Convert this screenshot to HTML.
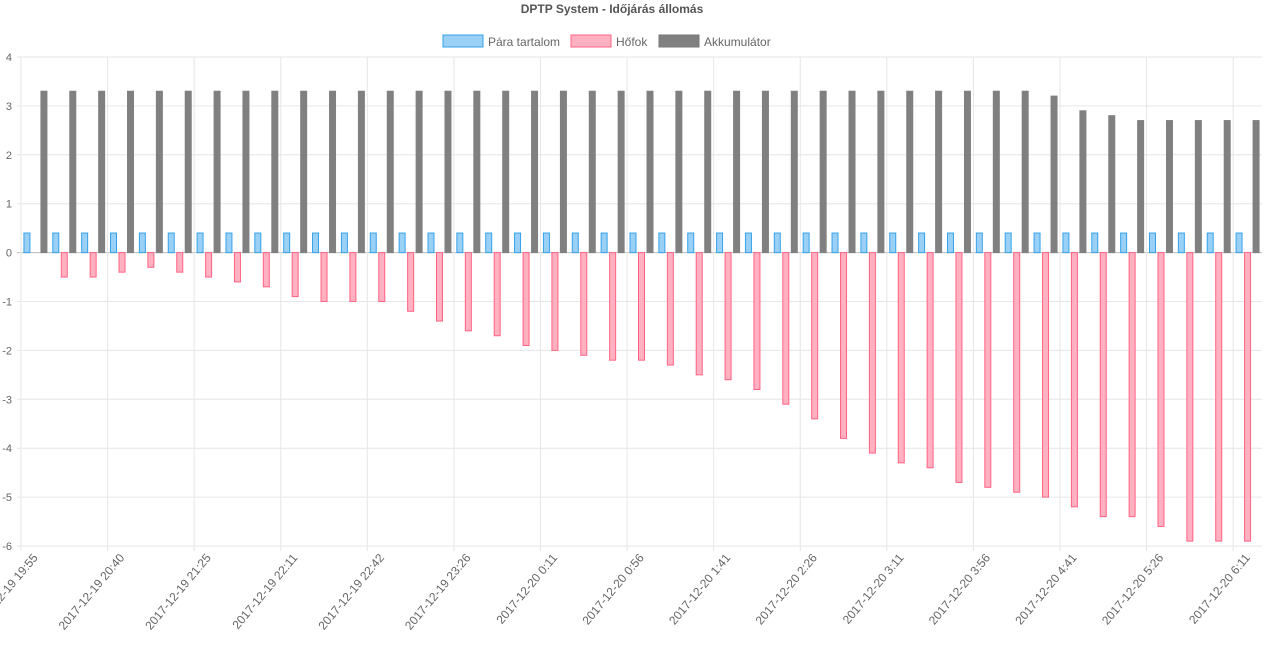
<!DOCTYPE html>
<html><head><meta charset="utf-8"><style>
html,body{margin:0;padding:0;background:#fff;width:1280px;height:656px;overflow:hidden}
svg text{font-family:"Liberation Sans",Arial,sans-serif;fill:#666}
</style></head><body>
<svg id="c" width="1280" height="656" xmlns="http://www.w3.org/2000/svg">
<text x="612" y="13" text-anchor="middle" font-size="12" font-weight="bold" style="fill:#555">DPTP System - Időjárás állomás</text>
<rect x="443" y="35" width="40" height="12" fill="#9ad0f5" stroke="#36a2eb" stroke-width="1"/>
<text x="488" y="46" font-size="12">Pára tartalom</text>
<rect x="571" y="35" width="40" height="12" fill="#ffb1c1" stroke="#ff6384" stroke-width="1"/>
<text x="616" y="46" font-size="12">Hőfok</text>
<rect x="659" y="35" width="40" height="12" fill="#808080" stroke="#777" stroke-width="1"/>
<text x="704" y="46" font-size="12">Akkumulátor</text>
<g id="g"></g>
</svg>
<script>
var g=document.getElementById('g'),s='';
var L=21,R=1262,T=57,B=546,n=43,cw=(R-L)/n,u=(B-T)/10;
function Y(v){return T+(4-v)*u;}
for(var v=-6;v<=4;v++){var y=Y(v);s+='<line x1="'+(L-4)+'" x2="'+R+'" y1="'+y+'" y2="'+y+'" stroke="'+(v==0?'#bbb':'#e6e6e6')+'"/>';
s+='<text x="'+(L-9)+'" y="'+(y+4)+'" text-anchor="end" font-size="11">'+v+'</text>';}
for(var i=0;i<=n;i+=3){var x=L+i*cw;s+='<line x1="'+x+'" x2="'+x+'" y1="'+T+'" y2="'+(B+5)+'" stroke="#e6e6e6"/>';}
var h=[0,-.5,-.5,-.4,-.3,-.4,-.5,-.6,-.7,-.9,-1,-1,-1,-1.2,-1.4,-1.6,-1.7,-1.9,-2,-2.1,-2.2,-2.2,-2.3,-2.5,-2.6,-2.8,-3.1,-3.4,-3.8,-4.1,-4.3,-4.4,-4.7,-4.8,-4.9,-5,-5.2,-5.4,-5.4,-5.6,-5.9,-5.9,-5.9];
var labs=['2017-12-19 19:55','2017-12-19 20:40','2017-12-19 21:25','2017-12-19 22:11','2017-12-19 22:42','2017-12-19 23:26','2017-12-20 0:11','2017-12-20 0:56','2017-12-20 1:41','2017-12-20 2:26','2017-12-20 3:11','2017-12-20 3:56','2017-12-20 4:41','2017-12-20 5:26','2017-12-20 6:11'];
function bar(cx,v,f,st){var y0=Y(0),y1=Y(v);var t=Math.min(y0,y1),hh=Math.abs(y1-y0);if(hh<0.5)return '';
return '<rect x="'+(cx-3)+'" y="'+t+'" width="6" height="'+hh+'" fill="'+f+'" stroke="'+st+'" stroke-width="1"/>';}
for(var i=0;i<n;i++){var c=L+(i+.5)*cw;
var a=i<35?3.3:[3.2,2.9,2.8,2.7,2.7,2.7,2.7,2.7][i-35];
s+=bar(c-8.5,0.4,'#9ad0f5','#36a2eb');
s+=bar(c,h[i],'#ffb1c1','#ff6384');
s+=bar(c+8.5,a,'#808080','#808080');
if(i%3==0){var lx=c+3,ly=558;s+='<text font-size="12" text-anchor="end" transform="translate('+lx+','+ly+') rotate(-50)">'+labs[i/3]+'</text>';}}
g.innerHTML=s;
</script>
</body></html>
